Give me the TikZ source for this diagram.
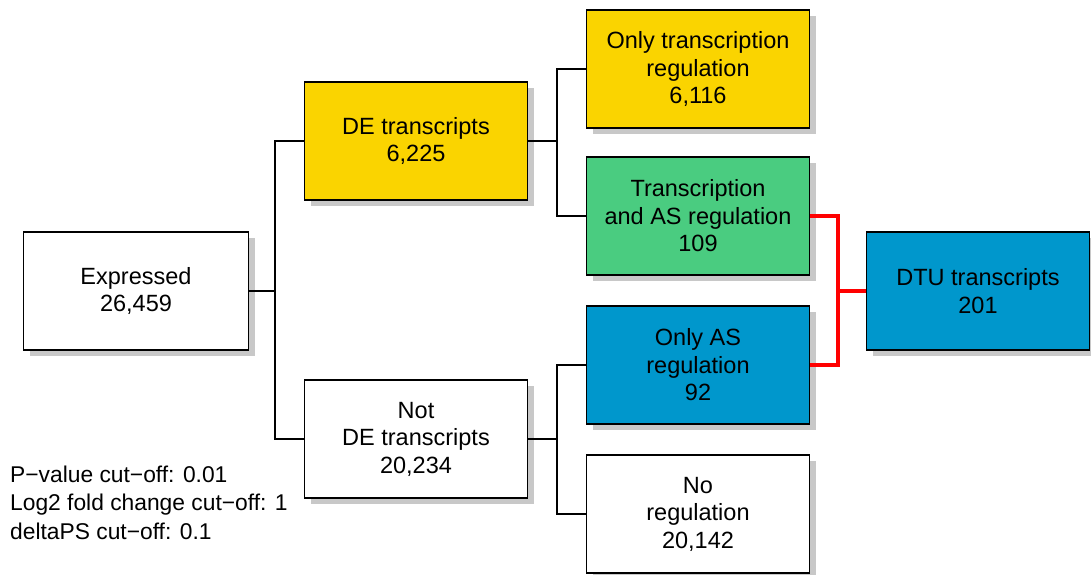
\documentclass[tikz,border=0pt]{standalone}
\usepackage{fontspec}
\setmainfont{Liberation Sans}
\usetikzlibrary{shadows}
\definecolor{cyel}{RGB}{250,212,0}
\definecolor{cgrn}{RGB}{74,204,128}
\definecolor{cblu}{RGB}{0,151,204}
\definecolor{cshd}{RGB}{200,200,200}
\begin{document}
\begin{tikzpicture}[x=1pt,y=-1pt,
  box/.style={draw=black,line width=1.6pt,minimum width=223pt,minimum height=118pt,inner sep=0pt,align=center,
    font=\fontsize{23.5}{27.5}\selectfont,
    drop shadow={shadow xshift=6pt,shadow yshift=-6pt,fill=cshd,opacity=1}},
  conn/.style={line width=1.8pt,black},
  rconn/.style={line width=3.5pt,red}]
\useasboundingbox (0,0) rectangle (1091,574);
\node[box,fill=white,minimum width=225pt] (exp) at (136,291) {Expressed\\26,459};
\node[box,fill=cyel] (de) at (416,141) {DE transcripts\\6,225};
\node[box,fill=white] (nde) at (416,439) {Not\\DE transcripts\\20,234};
\node[box,fill=cyel] (otr) at (698,69) {Only transcription\\regulation\\6,116};
\node[box,fill=cgrn] (tas) at (698,216) {Transcription\\and AS regulation\\109};
\node[box,fill=cblu] (oas) at (698,365) {Only AS\\regulation\\92};
\node[box,fill=white] (nor) at (698,514) {No\\regulation\\20,142};
\node[box,fill=cblu] (dtu) at (978,291) {DTU transcripts\\201};
\node[anchor=base west,align=left,inner sep=0pt,font=\fontsize{22.8}{28.5}\selectfont] (leg) at (10,539)
  {P−value cut−off: 0.01\\Log2 fold change cut−off: 1\\deltaPS cut−off: 0.1};
\coordinate (j1) at (275,291);
\coordinate (j2) at (557,141);
\coordinate (j3) at (557,439);
\coordinate (j4) at (838,291);
\draw[conn] (exp.east) -- (j1);
\draw[conn] (de.west) -| (j1) |- (nde.west);
\draw[conn] (de.east) -- (j2);
\draw[conn] (otr.west) -| (j2) |- (tas.west);
\draw[conn] (nde.east) -- (j3);
\draw[conn] (oas.west) -| (j3) |- (nor.west);
\draw[rconn] (tas.east) -| (j4) |- (oas.east);
\draw[rconn] (j4) -- (dtu.west);
\end{tikzpicture}
\end{document}
